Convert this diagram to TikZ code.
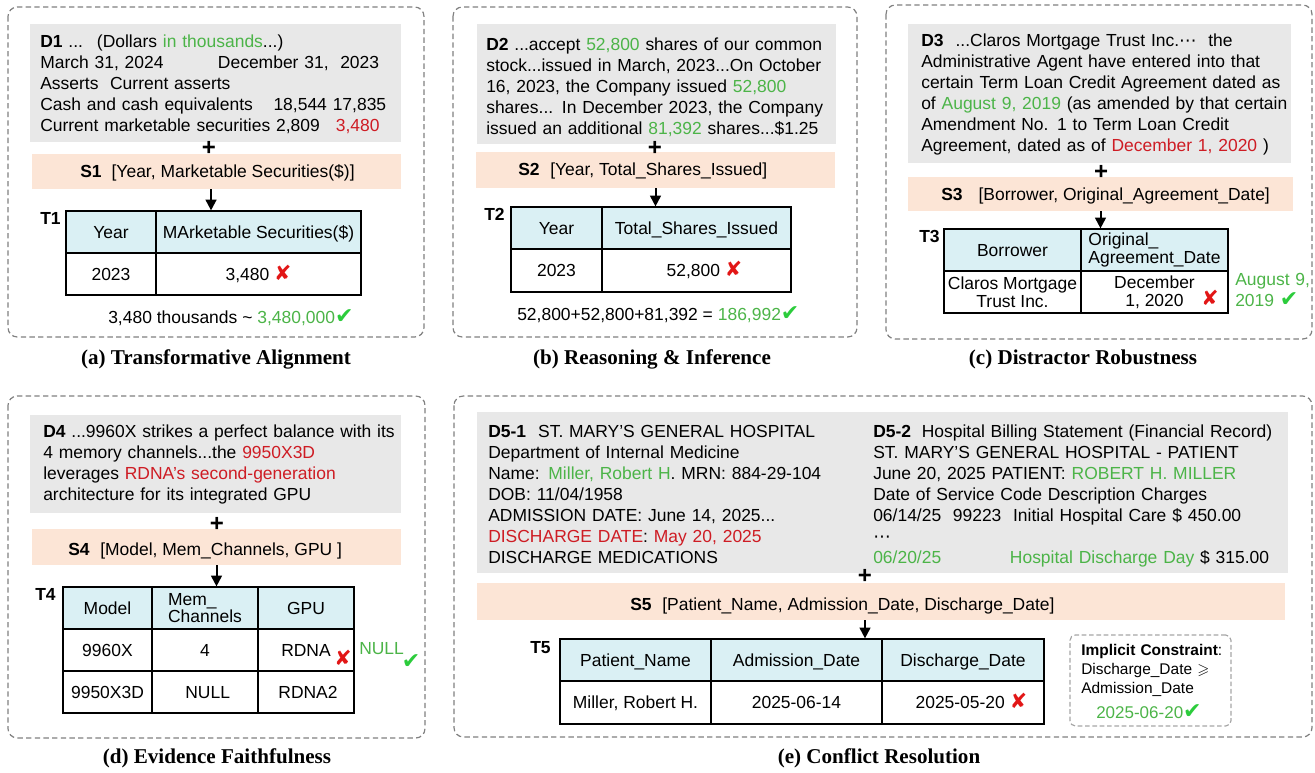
\documentclass[tikz,border=0pt]{standalone}
\usepackage{fontspec}
\usepackage{amssymb}
\setmainfont{Liberation Sans}
\newfontfamily\capfont{Liberation Serif}
\newfontfamily\symfont{DejaVu Sans}
\usetikzlibrary{arrows.meta}

\definecolor{docgray}{RGB}{232,232,232}
\definecolor{schemapeach}{RGB}{252,229,214}
\definecolor{headblue}{RGB}{218,240,244}
\definecolor{okgreen}{RGB}{76,180,72}
\definecolor{tickgreen}{RGB}{44,204,60}
\definecolor{badred}{RGB}{206,28,36}
\definecolor{crossred}{RGB}{226,22,22}
\definecolor{framegray}{RGB}{128,128,128}

\newcommand{\bodysize}{\fontsize{13.1}{15.75}\selectfont}
\newcommand{\tightsize}{\fontsize{13.1}{13.2}\selectfont}
\newcommand{\smallsize}{\fontsize{11.6}{14.6}\selectfont}
\newcommand{\gtxt}[1]{\textcolor{okgreen}{#1}}
\newcommand{\rtxt}[1]{\textcolor{badred}{#1}}
\newcommand{\okmark}{{\symfont\fontsize{16.5}{14}\selectfont\textcolor{tickgreen}{✔}}}
\newcommand{\badmark}{{\symfont\fontsize{15.5}{14}\selectfont\textcolor{crossred}{✘}}}

\tikzset{
  panel/.style={draw=framegray, line width=0.9pt, dash pattern=on 4pt off 2.5pt, rounded corners=7pt},
  conbox/.style={draw=framegray!70, line width=0.9pt, dash pattern=on 3.5pt off 2pt, rounded corners=4pt, inner sep=0pt},
  docbox/.style={fill=docgray, inner sep=0pt},
  schemabox/.style={fill=schemapeach, inner sep=0pt},
  doctext/.style={anchor=base west, inner sep=0pt, text width=380pt, align=left},
  plain/.style={anchor=base west, inner sep=0pt},
  tlabel/.style={anchor=base west, inner sep=0pt, font=\bodysize\bfseries},
  cell/.style={draw=black, line width=0.9pt, inner sep=0pt, text height=10.4pt, text depth=1pt, minimum height=31.5pt},
  hcell/.style={cell, fill=headblue},
  mcell/.style={draw=black, line width=0.9pt, inner sep=0pt, minimum height=31.5pt, font=\tightsize},
  markx/.style={inner sep=0pt},
  plussign/.style={inner sep=0pt, font=\fontsize{18}{18}\selectfont\bfseries},
  arr/.style={-{Triangle[width=8pt,length=8pt]}, line width=1.5pt},
  caption/.style={anchor=base, inner sep=0pt, font=\capfont\fontsize{15.8}{18}\selectfont\bfseries}
}

\begin{document}
\begin{tikzpicture}[x=0.75pt, y=-0.75pt, font=\bodysize]
\useasboundingbox (0,0) rectangle (1315,772);

% ===== (a) Transformative Alignment =====
\draw[panel] (8,7) rectangle (424,337);
\node[docbox, minimum width=278.25pt, minimum height=88.5pt] (d1) at (215.5,83) {};
\node[doctext] (d1txt) at (40,47.5) {\textbf{D1} ...\hspace{10.5pt}(Dollars \gtxt{in thousands}...)\\
March 31, 2024\hspace{40.8pt}December 31,\ \ 2023\\
Asserts\ \ Current asserts\\
Cash and cash equivalents\hspace{15.5pt}18,544 17,835\\
Current marketable securities 2,809\hspace{12pt}\rtxt{3,480}};
\node[schemabox, minimum width=276.75pt, minimum height=26.25pt] (s1) at (216.5,171.5) {};
\node[plain] (s1txt) at (80,177.5) {\textbf{S1}\hspace{7.5pt}[Year, Marketable Securities(\$)]};
\node[plussign] (p1) at (209,148) {+};

% table T1
\node[tlabel] (t1lab) at (40,224) {T1};
\node[hcell, minimum width=67.5pt] (t1a) at (111,232) {Year};
\node[hcell, minimum width=153.75pt] (t1b) at (258.5,232) {MArketable Securities(\$)};
\node[cell, minimum width=67.5pt] (t1c) at (111,274) {2023};
\node[cell, minimum width=153.75pt] (t1d) at (258.5,274) {3,480 \badmark\hspace{6pt}};
\coordinate (a1) at ([xshift=-4.1pt]s1.south);
\draw[arr] (a1) -- (a1 |- t1b.north);
\node[plain] (r1) at (108,323) {3,480 thousands \textasciitilde{} \gtxt{3,480,000}\okmark};
\node[caption] (cap1) at (216,364) {(a) Transformative Alignment};

% ===== (b) Reasoning & Inference =====
\draw[panel] (453,7) rectangle (857,337);
\node[docbox, minimum width=269.25pt, minimum height=90pt] (d2) at (656.5,84) {};
\node[doctext] (d2txt) at (486,50) {\textbf{D2} ...accept \gtxt{52,800} shares of our common\\
stock...issued in March, 2023...On October\\
16, 2023, the Company issued \gtxt{52,800}\\
shares... In December 2023, the Company\\
issued an additional \gtxt{81,392} shares...\$1.25};
\node[schemabox, minimum width=269.25pt, minimum height=27pt] (s2) at (655.5,170) {};
\node[plain] (s2txt) at (518,175) {\textbf{S2}\hspace{8pt}[Year, Total\_Shares\_Issued]};
\node[plussign] (p2) at (655,148.5) {+};

% table T2
\node[tlabel] (t2lab) at (484,220) {T2};
\node[hcell, minimum width=68.25pt] (t2a) at (556.5,228) {Year};
\node[hcell, minimum width=141.75pt] (t2b) at (696.5,228) {Total\_Shares\_Issued};
\node[cell, minimum width=68.25pt, minimum height=32.25pt] (t2c) at (556.5,270.5) {2023};
\node[cell, minimum width=141.75pt, minimum height=32.25pt] (t2d) at (696.5,270.5) {\hspace{12pt}52,800 \badmark};
\draw[arr] (s2.south) -- (s2.south |- t2b.north);
\node[plain] (r2) at (517,320) {52,800+52,800+81,392 = \gtxt{186,992}\okmark};
\node[caption] (cap2) at (652,364) {(b) Reasoning \& Inference};

% ===== (c) Distractor Robustness =====
\draw[panel] (886,5) rectangle (1312,339);
\node[docbox, minimum width=287.25pt, minimum height=104.25pt] (d3) at (1099.5,93.5) {};
\node[doctext] (d3txt) at (921,46.7) {\textbf{D3}\hspace{9pt}...Claros Mortgage Trust Inc.{\symfont ⋯}\ \ the\\
Administrative Agent have entered into that\\
certain Term Loan Credit Agreement dated as\\
of \gtxt{August 9, 2019} (as amended by that certain\\
Amendment No. 1 to Term Loan Credit\\
Agreement, dated as of \rtxt{December 1, 2020} )};
\node[schemabox, minimum width=288.75pt, minimum height=25.5pt] (s3) at (1100.5,194) {};
\node[plain] (s3txt) at (941,200) {\textbf{S3}\hspace{12pt}[Borrower, Original\_Agreement\_Date]};
\node[plussign] (p3) at (1101,172) {+};

% table T3
\node[tlabel] (t3lab) at (919,242) {T3};
\node[hcell, minimum width=102.75pt] (t3a) at (1012.5,250) {Borrower};
\node[mcell, fill=headblue, minimum width=110.25pt, align=left] (t3b) at (1154.5,250) {Original\_\\Agreement\_Date};
\node[mcell, minimum width=102.75pt, align=center] (t3c) at (1012.5,292) {Claros Mortgage\\Trust Inc.};
\node[mcell, minimum width=110.25pt, align=center] (t3d) at (1154.5,292) {December\\1, 2020\hspace{12pt}};
\node[markx] (x3) at (1210,298) {\badmark};
\draw[arr] (s3.south) -- (s3.south |- t3b.north);
\node[doctext, text width=70pt] (r3) at (1235,285) {\gtxt{August 9,}\\\gtxt{2019} \okmark};
\node[caption] (cap3) at (1083,364) {(c) Distractor Robustness};

% ===== (d) Evidence Faithfulness =====
\draw[panel] (8,396) rectangle (425,738);
\node[docbox, minimum width=278.25pt, minimum height=73.5pt] (d4) at (215.5,464) {};
\node[doctext] (d4txt) at (43,437.3) {\textbf{D4} ...9960X strikes a perfect balance with its\\
4 memory channels...the \rtxt{9950X3D}\\
leverages \rtxt{RDNA's second-generation}\\
architecture for its integrated GPU};
\node[schemabox, minimum width=276.75pt, minimum height=27pt] (s4) at (216.5,547) {};
\node[plain] (s4txt) at (68,555) {\textbf{S4}\hspace{8pt}[Model, Mem\_Channels, GPU ]};
\node[plussign] (p4) at (217,524) {+};

% table T4
\node[tlabel] (t4lab) at (35,600) {T4};
\node[hcell, minimum width=66.75pt] (t4a) at (107.5,608) {Model};
\node[mcell, fill=headblue, minimum width=79.5pt, align=left] (t4b) at (205,608) {Mem\_\\Channels};
\node[hcell, minimum width=72pt] (t4c) at (306,608) {GPU};
\node[cell, minimum width=66.75pt] (t4d) at (107.5,650) {9960X};
\node[cell, minimum width=79.5pt] (t4e) at (205,650) {4};
\node[cell, minimum width=72pt] (t4f) at (306,650) {RDNA\hspace{4pt}};
\node[cell, minimum width=66.75pt] (t4g) at (107.5,692) {9950X3D};
\node[cell, minimum width=79.5pt] (t4h) at (205,692) {\hspace{4pt}NULL};
\node[cell, minimum width=72pt] (t4i) at (306,692) {\hspace{3pt}RDNA2};
\node[markx] (x4) at (343,658) {\badmark};
\draw[arr] (s4.south) -- (s4.south |- t4b.north);
\node[plain] (r4) at (359,654) {\gtxt{NULL}};
\node[markx] (c4) at (411,662) {\okmark};
\node[caption] (cap4) at (217,763) {(d) Evidence Faithfulness};

% ===== (e) Conflict Resolution =====
\draw[panel] (454,396) rectangle (1312,737);
\node[docbox, minimum width=608.25pt, minimum height=120.75pt] (d5) at (882.5,492.5) {};
\node[doctext] (d51txt) at (488,437.3) {\textbf{D5-1}\hspace{9pt}ST. MARY’S GENERAL HOSPITAL\\
Department of Internal Medicine\\
Name: \gtxt{Miller, Robert H}. MRN: 884-29-104\\
DOB: 11/04/1958\\
ADMISSION DATE: June 14, 2025...\\
\rtxt{DISCHARGE DATE}: \rtxt{May 20, 2025}\\
DISCHARGE MEDICATIONS};
\node[doctext] (d52txt) at (873,437.3) {\textbf{D5-2}\hspace{8pt}Hospital Billing Statement (Financial Record)\\
ST. MARY’S GENERAL HOSPITAL - PATIENT\\
June 20, 2025 PATIENT: \gtxt{ROBERT H. MILLER}\\
Date of Service Code Description Charges\\
06/14/25\ \ 99223\ \ Initial Hospital Care \$ 450.00\\
{\symfont ⋯}\\
\gtxt{06/20/25}\hspace{51.5pt}\gtxt{Hospital Discharge Day} \$ 315.00};
\node[schemabox, minimum width=606pt, minimum height=27.75pt] (s5) at (881,601.5) {};
\node[plain] (s5txt) at (630,610) {\textbf{S5}\hspace{8pt}[Patient\_Name, Admission\_Date, Discharge\_Date]};
\node[plussign] (p5) at (865,576) {+};

% table T5
\node[tlabel] (t5lab) at (530,653) {T5};
\node[hcell, minimum width=113.25pt] (t5a) at (635.5,660) {Patient\_Name};
\node[hcell, minimum width=128.25pt] (t5b) at (796.5,660) {Admission\_Date};
\node[hcell, minimum width=121.5pt] (t5c) at (963,660) {Discharge\_Date};
\node[cell, minimum width=113.25pt, minimum height=32.25pt] (t5d) at (635.5,702.5) {Miller, Robert H.};
\node[cell, minimum width=128.25pt, minimum height=32.25pt] (t5e) at (796.5,702.5) {2025-06-14};
\node[cell, minimum width=121.5pt, minimum height=32.25pt] (t5f) at (963,702.5) {\hspace{12.5pt}2025-05-20 \badmark};
\coordinate (a5) at ([xshift=-12pt]s5.south);
\draw[arr] (a5) -- (a5 |- t5b.north);

% implicit constraint
\node[conbox, minimum width=120.75pt, minimum height=68.25pt] (ic) at (1150.5,680.5) {};
\node[doctext, text width=115pt, font=\smallsize] (ictxt) at (1081,655) {\textbf{Implicit Constraint}:\\
Discharge\_Date $\geqslant$\\
Admission\_Date};
\node[plain, font=\fontsize{12.75}{15}\selectfont] (icval) at (1096,718) {\gtxt{2025-06-20}\okmark};
\node[caption] (cap5) at (879,763) {(e) Conflict Resolution};

\end{tikzpicture}
\end{document}
